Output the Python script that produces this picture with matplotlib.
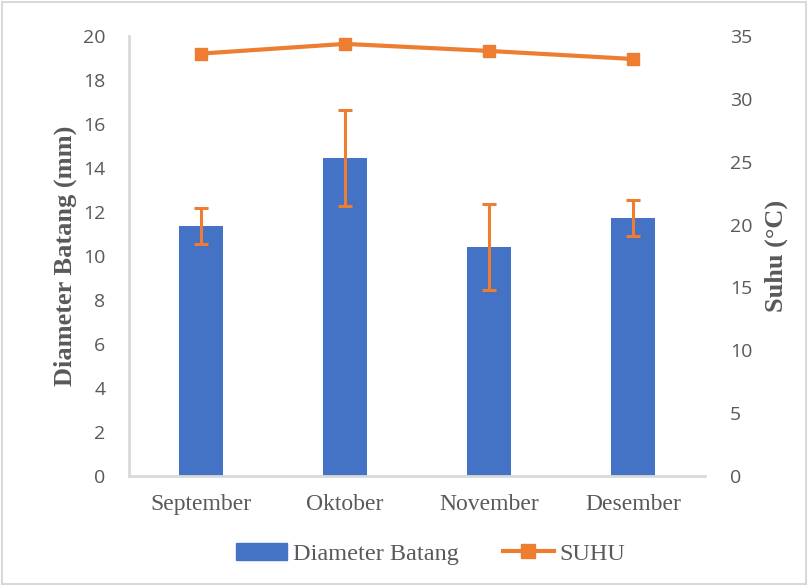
import matplotlib.pyplot as plt
from matplotlib.lines import Line2D
from matplotlib.patches import Patch

months = ['September', 'Oktober', 'November', 'Desember']
diameter = [11.36, 14.45, 10.41, 11.73]
diameter_err = [0.80, 2.18, 1.96, 0.82]
suhu = [33.6, 34.37, 33.81, 33.17]

blue = '#4472C4'
orange = '#ED7D31'
grey = '#595959'
axis_grey = '#D9D9D9'

fig = plt.figure(figsize=(8.08, 5.86), dpi=100)
ax = fig.add_axes([0.1597, 0.1877, 0.7128, 0.7509])

x = range(len(months))
ax.bar(x, diameter, width=0.31, color=blue, zorder=2,
       yerr=diameter_err,
       error_kw=dict(ecolor=orange, elinewidth=2.2, capsize=5, capthick=2.2))
ax.set_xlim(-0.5, 3.5)
ax.set_ylim(0, 20)
ax.set_yticks(range(0, 21, 2))
ax.set_xticks(list(x))
ax.set_xticklabels(months, family='Liberation Serif', fontsize=17, color=grey)
ax.tick_params(axis='x', length=0, pad=13)
ax.tick_params(axis='y', length=0, pad=17, labelsize=14, labelcolor=grey)
for lab in ax.get_yticklabels():
    lab.set_family('Open Sans')
for s in ['top', 'right']:
    ax.spines[s].set_visible(False)
for s in ['left', 'bottom']:
    ax.spines[s].set_color(axis_grey)
    ax.spines[s].set_linewidth(2)
ax.set_ylabel('Diameter Batang (mm)', family='Liberation Serif', fontsize=19,
              fontweight='bold', color=grey, labelpad=4)

ax2 = ax.twinx()
ax2.plot(list(x), suhu, color=orange, lw=3, marker='s', markersize=9, zorder=3)
ax2.set_ylim(0, 35)
ax2.set_yticks(range(0, 36, 5))
ax2.tick_params(axis='y', length=0, pad=18, labelsize=14, labelcolor=grey)
for lab in ax2.get_yticklabels():
    lab.set_family('Open Sans')
for s in ['top', 'right', 'left', 'bottom']:
    ax2.spines[s].set_visible(False)
ax2.set_ylabel('Suhu (°C)', family='Liberation Serif', fontsize=19,
               fontweight='bold', color=grey, labelpad=9)

handles = [Patch(color=blue),
           Line2D([], [], color=orange, lw=3, marker='s', markersize=10)]
fig.legend(handles, ['Diameter Batang', 'SUHU'], loc='center', ncol=2,
           bbox_to_anchor=(0.533, 0.055), frameon=False, handlelength=2.1,
           handletextpad=0.25, columnspacing=1.8,
           prop={'family': 'Liberation Serif', 'size': 17.5}, labelcolor=grey)

fig.patches.append(plt.Rectangle((0.003, 0.003), 0.994, 0.994, transform=fig.transFigure,
                                 fill=False, edgecolor=axis_grey, lw=1.5))

fig.savefig('out.png', dpi=100)
